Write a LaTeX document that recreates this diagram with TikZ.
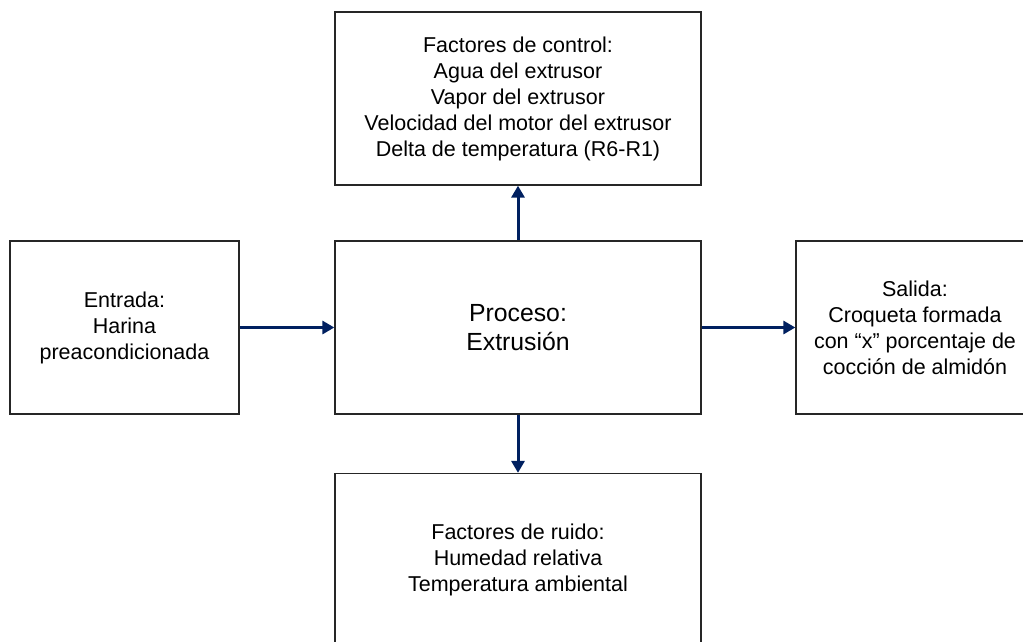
\documentclass[tikz,border=0pt]{standalone}
\usepackage{fontspec}
\setmainfont{Liberation Sans}
\usetikzlibrary{arrows.meta}
\definecolor{navyarrow}{RGB}{0,32,96}

\begin{document}
\begin{tikzpicture}[x=1pt, y=-1pt,
    blockbox/.style={draw=black!85, line width=1.3pt, fill=white, align=center,
        inner sep=0pt, minimum height=173pt, font=\fontsize{21.5}{26}\selectfont},
    flow/.style={draw=navyarrow, line width=3pt, -{Triangle[length=12pt, width=13pt]}}]
    \useasboundingbox (0,0) rectangle (1023,641);
    \node[blockbox, minimum width=366pt, font=\fontsize{24.8}{29}\selectfont] (proceso) at (518,327.5) {Proceso:\\Extrusión};
    \node[blockbox, minimum width=366pt] (control) at (518,98.5) {Factores de control:\\Agua del extrusor\\Vapor del extrusor\\Velocidad del motor del extrusor\\Delta de temperatura (R6-R1)};
    \node[blockbox, minimum width=229pt] (entrada) at (124.5,327.5) {Entrada:\\Harina\\preacondicionada};
    \node[blockbox, minimum width=238pt] (salida) at (915,327.5) {Salida:\\Croqueta formada\\con “x” porcentaje de\\cocción de almidón};
    \node[blockbox, minimum width=366pt] (ruido) at (518,560) {Factores de ruido:\\Humedad relativa\\Temperatura ambiental};
    \draw[flow] (entrada) -- (proceso);
    \draw[flow] (proceso) -- (salida);
    \draw[flow] (proceso) -- (control);
    \draw[flow] (proceso) -- (ruido);
\end{tikzpicture}
\end{document}
